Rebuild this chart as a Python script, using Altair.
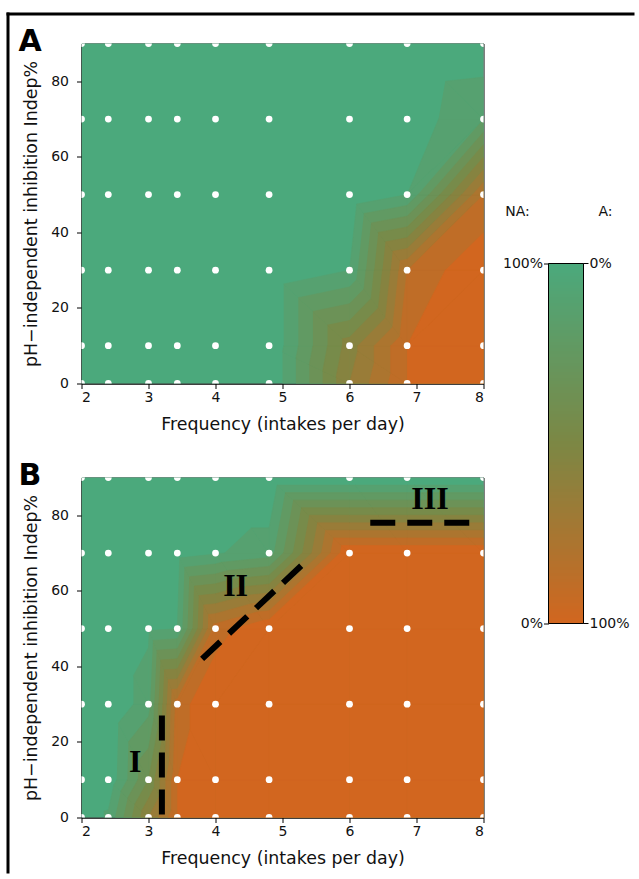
import altair as alt
import pandas as pd

# ---------------- data ----------------
freq = [2, 2.4, 3, 3.43, 4, 4.8, 6, 6.86, 8]        # grid columns (intakes per day)
indep = [0, 10, 30, 50, 70, 90]                     # grid rows (Indep %)

adapt_a = [
    [0, 0, 0, 0, 0, 0, 0.60, 0.90, 1.00],
    [0, 0, 0, 0, 0, 0, 0.55, 0.90, 1.00],
    [0, 0, 0, 0, 0, 0, 0.10, 0.80, 1.00],
    [0, 0, 0, 0, 0, 0, 0.00, 0.10, 0.80],
    [0, 0, 0, 0, 0, 0, 0.00, 0.03, 0.20],
    [0, 0, 0, 0, 0, 0, 0.00, 0.00, 0.02],
]
adapt_b = [
    [0, 0.12, 0.60, 0.90, 1.00, 1.00, 1.00, 1.00, 1.00],
    [0, 0.02, 0.40, 0.90, 1.00, 1.00, 1.00, 1.00, 1.00],
    [0, 0.00, 0.16, 0.85, 1.00, 1.00, 1.00, 1.00, 1.00],
    [0, 0.00, 0.08, 0.10, 0.85, 1.00, 1.00, 1.00, 1.00],
    [0, 0.00, 0.00, 0.05, 0.09, 0.15, 1.00, 1.00, 1.00],
    [0, 0.00, 0.00, 0.00, 0.00, 0.00, 0.00, 0.00, 0.00],
]

# triangulation: cells (column, row) split along the other diagonal
flipped_cells = {(7, 1), (7, 2), (7, 3), (3, 2), (4, 2), (5, 3)}

levels = [0.1, 0.2, 0.3, 0.4, 0.5, 0.6, 0.7, 0.8, 0.9]
cmap_values = [0, 0.5, 1]
cmap_colors = ["#4ba97c", "#7c8744", "#d2661f"]

x_ticks = [2, 3, 4, 5, 6, 7, 8]
y_ticks = [0, 20, 40, 60, 80]

dash_seg = ["I", "I", "II", "II", "III", "III"]
dash_x = [3.2, 3.2, 3.8, 5.3, 6.31, 7.83]
dash_y = [27, 0, 42, 67, 78, 78]
roman_text = ["I", "II", "III"]
roman_x = [2.8, 4.3, 7.2]
roman_y = [14.6, 61.4, 84.4]

cb_values = [0, 1]                 # NA fraction along the colour bar (bottom, top)
cb_na_labels = ["0%", "100%"]
cb_a_labels = ["100%", "0%"]
cb_headers = ["NA:", "A:"]

FONT = "DejaVu Sans"
PANEL_W, PANEL_H = 402, 340
CB_W, CB_BAR_H, CB_H = 35, 360, 580
CB_GAP = 65
CB_STEPS = 120


# ---------------- filled contours: cumulative regions v >= level ----------------
def clip_above(poly, level):
    out = []
    n = len(poly)
    for i in range(n):
        cur, nxt = poly[i], poly[(i + 1) % n]
        cin, nin = cur[2] >= level, nxt[2] >= level
        if cin:
            out.append(cur)
        if cin != nin:
            t = (level - cur[2]) / (nxt[2] - cur[2])
            out.append((cur[0] + t * (nxt[0] - cur[0]), cur[1] + t * (nxt[1] - cur[1]), level))
    return out


def area(poly):
    s = 0.0
    for i in range(len(poly)):
        x1, y1, _ = poly[i]
        x2, y2, _ = poly[(i + 1) % len(poly)]
        s += x1 * y2 - x2 * y1
    return abs(s) / 2


def level_regions(values):
    nb = len(levels)
    frames = []
    base = [(freq[0], indep[0], 0), (freq[-1], indep[0], 0), (freq[-1], indep[-1], 0), (freq[0], indep[-1], 0)]
    frames.append(pd.DataFrame([{"pid": 0, "vi": vi, "x": x, "y": y, "c": 0.0}
                                for vi, (x, y, _) in enumerate(base)]))

    def p(a, b):
        return (freq[a], indep[b], values[b][a])

    for k, lev in enumerate(levels, start=1):
        rows = []
        pid = 0
        for j in range(len(indep) - 1):
            for i in range(len(freq) - 1):
                corners = [p(i, j), p(i + 1, j), p(i + 1, j + 1), p(i, j + 1)]
                if all(c[2] >= lev for c in corners):
                    polys = [corners]
                elif (i, j) in flipped_cells:
                    polys = [clip_above([p(i, j), p(i + 1, j), p(i + 1, j + 1)], lev),
                             clip_above([p(i, j), p(i + 1, j + 1), p(i, j + 1)], lev)]
                else:
                    polys = [clip_above([p(i, j), p(i + 1, j), p(i, j + 1)], lev),
                             clip_above([p(i + 1, j), p(i + 1, j + 1), p(i, j + 1)], lev)]
                for poly in polys:
                    if len(poly) >= 3 and area(poly) > 1e-6:
                        for vi, (x, y, _) in enumerate(poly):
                            rows.append({"pid": pid, "vi": vi, "x": x, "y": y, "c": k / nb})
                        pid += 1
        if rows:
            frames.append(pd.DataFrame(rows))
    return frames


dots_df = pd.DataFrame([{"x": x, "y": y} for y in indep for x in freq])
dash_df = pd.DataFrame({"seg": dash_seg, "k": list(range(len(dash_x))), "x": dash_x, "y": dash_y})
roman_df = pd.DataFrame({"t": roman_text, "x": roman_x, "y": roman_y})

x_scale = alt.Scale(domain=[2, 8], nice=False, zero=False)
y_scale = alt.Scale(domain=[0, 90], nice=False, zero=False)
c_scale = alt.Scale(domain=cmap_values, range=cmap_colors, interpolate="rgb")

x_axis = alt.Axis(values=x_ticks, format="d", title="Frequency (intakes per day)",
                  labelPadding=2, titlePadding=11)
y_axis = alt.Axis(values=y_ticks, format="d", title="pH\u2212independent inhibition Indep%",
                  labelPadding=8, titlePadding=10)


def panel(values, letter, annotate, border):
    layers = []
    for df in level_regions(values):
        layers.append(alt.Chart(df).mark_line(filled=True, strokeWidth=0.6, clip=True).encode(
            x=alt.X("x:Q", scale=x_scale, axis=x_axis),
            y=alt.Y("y:Q", scale=y_scale, axis=y_axis),
            detail="pid:N",
            order="vi:Q",
            color=alt.Color("c:Q", scale=c_scale, legend=None),
            stroke=alt.Stroke("c:Q", scale=c_scale, legend=None),
        ))
    dots = alt.Chart(dots_df).mark_circle(color="white", opacity=1, size=46, clip=True).encode(
        x=alt.X("x:Q", scale=x_scale, axis=x_axis), y=alt.Y("y:Q", scale=y_scale, axis=y_axis)
    )
    layers.append(dots)
    if annotate:
        dashes = alt.Chart(dash_df).mark_line(
            color="black", strokeWidth=6, strokeDash=[25, 12], strokeCap="butt", clip=True
        ).encode(x=alt.X("x:Q", scale=x_scale, axis=x_axis), y=alt.Y("y:Q", scale=y_scale, axis=y_axis),
                 detail="seg:N", order="k:Q")
        romans = alt.Chart(roman_df).mark_text(
            font="Liberation Serif", fontSize=32, fontWeight="bold", color="black",
            align="center", baseline="middle"
        ).encode(x=alt.X("x:Q", scale=x_scale, axis=x_axis), y=alt.Y("y:Q", scale=y_scale, axis=y_axis),
                 text="t:N")
        layers += [dashes, romans]
    lab = alt.Chart(pd.DataFrame({"t": [letter]})).mark_text(
        font=FONT, fontSize=30, fontWeight="bold", align="left", baseline="alphabetic", color="black"
    ).encode(text="t:N", x=alt.value(-63), y=alt.value(7))
    layers.append(lab)
    if border:
        one = pd.DataFrame({"a": [0]})
        layers.append(alt.Chart(one).mark_rule(color="black", strokeWidth=3).encode(
            x=alt.value(-75), x2=alt.value(553), y=alt.value(-29.5)))
        layers.append(alt.Chart(one).mark_rule(color="black", strokeWidth=3).encode(
            x=alt.value(-73.5), y=alt.value(-31), y2=alt.value(830)))
    return alt.layer(*layers).properties(width=PANEL_W, height=PANEL_H)


panel_a = panel(adapt_a, "A", False, True)
panel_b = panel(adapt_b, "B", True, False)

# ---------------- colour bar (y = NA fraction, colour = A fraction = 1 - NA) ----------------
cb_scale = alt.Scale(domain=[0, CB_H / CB_BAR_H], nice=False, zero=False)
steps_df = pd.DataFrame({
    "lo": [s / CB_STEPS for s in range(CB_STEPS)],
    "hi": [(s + 1) / CB_STEPS for s in range(CB_STEPS)],
    "a": [1 - (s + 0.5) / CB_STEPS for s in range(CB_STEPS)],
})
left_expr = "datum.value == %s ? '%s' : '%s'" % (cb_values[1], cb_na_labels[1], cb_na_labels[0])
cb_axis = alt.Axis(orient="left", values=cb_values, labelExpr=left_expr, domain=False,
                   labelPadding=1, title=None)
cb_fill = alt.Chart(steps_df).mark_rect(strokeWidth=1).encode(
    y=alt.Y("lo:Q", scale=cb_scale, axis=cb_axis),
    y2="hi:Q",
    color=alt.Color("a:Q", scale=c_scale, legend=None),
    stroke=alt.Stroke("a:Q", scale=c_scale, legend=None),
)
frame_df = pd.DataFrame({"lo": [cb_values[0]], "hi": [cb_values[1]]})
cb_frame = alt.Chart(frame_df).mark_rect(filled=False, stroke="black", strokeWidth=1).encode(
    y=alt.Y("lo:Q", scale=cb_scale, axis=cb_axis), y2="hi:Q"
)
right_df = pd.DataFrame({"v": cb_values, "t": cb_a_labels})
cb_rticks = alt.Chart(right_df).mark_rule(color="black", strokeWidth=1).encode(
    y=alt.Y("v:Q", scale=cb_scale, axis=cb_axis), x=alt.value(CB_W), x2=alt.value(CB_W + 5)
)
cb_rlabels = alt.Chart(right_df).mark_text(
    font=FONT, fontSize=14, color="#111111", align="left", baseline="middle"
).encode(y=alt.Y("v:Q", scale=cb_scale, axis=cb_axis), text="t:N", x=alt.value(CB_W + 6))
head_df = pd.DataFrame({"t": cb_headers, "px": [-31, CB_W + 22]})
cb_heads = alt.Chart(head_df).mark_text(
    font=FONT, fontSize=14, color="#111111", align="center", baseline="middle"
).encode(text="t:N", x=alt.X("px:Q", scale=None), y=alt.value(168))
colorbar = alt.layer(cb_fill, cb_frame, cb_rticks, cb_rlabels, cb_heads).properties(
    width=CB_W, height=CB_H, view=alt.ViewBackground(strokeWidth=0)
)

left = alt.vconcat(panel_a, panel_b, spacing=94, bounds="flush")
# with flush bounds the nested column counts as zero width, so the gap includes the panel width
chart = alt.hconcat(left, colorbar, spacing=PANEL_W + CB_GAP, bounds="flush").properties(
    padding={"left": 4.5, "top": 10.5, "right": 0, "bottom": 0},
    background="white",
).configure_axis(
    labelFont=FONT, titleFont=FONT, labelFontSize=14, titleFontSize=17.4,
    labelColor="#111111", titleColor="#111111", titleFontWeight="normal",
    domainColor="black", tickColor="black", tickSize=5, tickWidth=1, grid=False,
).configure_view(stroke="black", strokeWidth=1)

chart.save("out.html", embed_options={"renderer": "svg", "actions": False})
